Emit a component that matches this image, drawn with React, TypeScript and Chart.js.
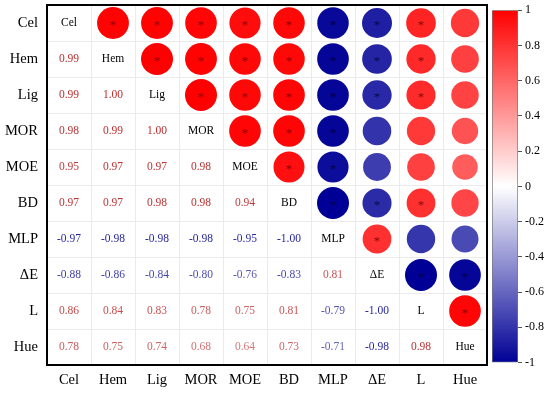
import React, { useEffect, useRef } from "react";
import { Chart, registerables } from "chart.js";

Chart.register(...registerables);

// ---------- data ----------
const labels = ["Cel", "Hem", "Lig", "MOR", "MOE", "BD", "MLP", "ΔE", "L", "Hue"];

// lower triangle of the correlation matrix (row i, columns 0..i)
const rowCel = [1];
const rowHem = [0.99, 1];
const rowLig = [0.99, 1.0, 1];
const rowMOR = [0.98, 0.99, 1.0, 1];
const rowMOE = [0.95, 0.97, 0.97, 0.98, 1];
const rowBD = [0.97, 0.97, 0.98, 0.98, 0.94, 1];
const rowMLP = [-0.97, -0.98, -0.98, -0.98, -0.95, -1.0, 1];
const rowDE = [-0.88, -0.86, -0.84, -0.8, -0.76, -0.83, 0.81, 1];
const rowL = [0.86, 0.84, 0.83, 0.78, 0.75, 0.81, -0.79, -1.0, 1];
const rowHue = [0.78, 0.75, 0.74, 0.68, 0.64, 0.73, -0.71, -0.98, 0.98, 1];
const lowerRows = [rowCel, rowHem, rowLig, rowMOR, rowMOE, rowBD, rowMLP, rowDE, rowL, rowHue];

// significance flags (1 = "*") for pairs (row i, column j < i)
const sigCel: number[] = [];
const sigHem = [1];
const sigLig = [1, 1];
const sigMOR = [1, 1, 1];
const sigMOE = [1, 1, 1, 1];
const sigBD = [1, 1, 1, 1, 1];
const sigMLP = [1, 1, 1, 1, 1, 1];
const sigDE = [1, 1, 1, 0, 0, 1, 1];
const sigL = [1, 1, 1, 0, 0, 1, 0, 1];
const sigHue = [0, 0, 0, 0, 0, 0, 0, 1, 1];
const sigRows = [sigCel, sigHem, sigLig, sigMOR, sigMOE, sigBD, sigMLP, sigDE, sigL, sigHue];

const colorbarMin = -1;
const colorbarMax = 1;
const colorbarStep = 0.2;

// ---------- helpers ----------
const FONT = '"Liberation Serif", "Times New Roman", serif';
const POS = [255, 0, 0];
const NEG = [0, 0, 150];
const POS_TEXT = [190, 45, 45];
const NEG_TEXT = [35, 35, 160];

function corr(i: number, j: number): number {
  return i >= j ? lowerRows[i][j] : lowerRows[j][i];
}
function isSig(i: number, j: number): boolean {
  const a = Math.max(i, j);
  const b = Math.min(i, j);
  return sigRows[a][b] === 1;
}
function mix(end: number[], t: number): string {
  const c = end.map((e) => Math.round(255 + (e - 255) * t));
  return `rgb(${c[0]},${c[1]},${c[2]})`;
}
function cmap(v: number): string {
  return v >= 0 ? mix(POS, v) : mix(NEG, -v);
}
function textColor(v: number): string {
  return v >= 0 ? mix(POS_TEXT, Math.max(v, 0.55)) : mix(NEG_TEXT, Math.max(-v, 0.6));
}

const matrixPlugin = {
  id: "matrixText",
  afterDatasetsDraw(chart: any) {
    const ctx = chart.ctx;
    const xs = chart.scales.x;
    const ys = chart.scales.y;
    ctx.save();
    ctx.textAlign = "center";
    ctx.textBaseline = "middle";
    for (let i = 0; i < labels.length; i++) {
      for (let j = 0; j < labels.length; j++) {
        const x = xs.getPixelForValue(j);
        const y = ys.getPixelForValue(i);
        if (i === j) {
          ctx.fillStyle = "#000";
          ctx.font = `11.5px ${FONT}`;
          ctx.fillText(labels[i], x, y);
        } else if (i > j) {
          const v = corr(i, j);
          ctx.fillStyle = textColor(v);
          ctx.font = `11.5px ${FONT}`;
          ctx.fillText(v.toFixed(2), x, y);
        } else if (isSig(i, j)) {
          const v = corr(i, j);
          ctx.fillStyle = v >= 0 ? "rgba(110,0,0,0.85)" : "rgba(0,0,40,0.8)";
          ctx.font = `13px ${FONT}`;
          ctx.fillText("*", x, y + 3);
        }
      }
    }
    const a = chart.chartArea;
    ctx.lineWidth = 2;
    ctx.strokeStyle = "#000";
    ctx.strokeRect(a.left, a.top, a.right - a.left, a.bottom - a.top);
    ctx.restore();
  },
};

function noPad(s: any) {
  s.paddingTop = 0;
  s.paddingBottom = 0;
  s.paddingLeft = 0;
  s.paddingRight = 0;
}

export default function App() {
  const mainRef = useRef<HTMLCanvasElement | null>(null);
  const barRef = useRef<HTMLCanvasElement | null>(null);

  useEffect(() => {
    const points: any[] = [];
    const colors: string[] = [];
    for (let i = 0; i < labels.length; i++) {
      for (let j = i + 1; j < labels.length; j++) {
        const v = corr(i, j);
        points.push({ x: labels[j], y: labels[i], r: 16 * Math.sqrt(Math.abs(v)) });
        colors.push(cmap(v));
      }
    }

    const main = new Chart(mainRef.current as HTMLCanvasElement, {
      type: "bubble",
      data: {
        labels: labels,
        datasets: [
          {
            data: points,
            backgroundColor: colors,
            borderWidth: 0,
            hoverBorderWidth: 0,
          } as any,
        ],
      },
      options: {
        animation: false,
        responsive: false,
        events: [],
        layout: { autoPadding: false, padding: { left: 0, top: 5, right: 3, bottom: 0 } },
        plugins: { legend: { display: false }, tooltip: { enabled: false } },
        scales: {
          x: {
            type: "category",
            offset: true,
            grid: { offset: true, color: "#ebebeb", drawTicks: false },
            border: { display: false },
            ticks: { color: "#000", font: { family: FONT, size: 14.5 }, padding: 6, maxRotation: 0, autoSkip: false },
            afterFit: (s: any) => {
              s.height = 31;
              noPad(s);
            },
          } as any,
          y: {
            type: "category",
            offset: true,
            grid: { offset: true, color: "#ebebeb", drawTicks: false },
            border: { display: false },
            ticks: { color: "#000", font: { family: FONT, size: 14.5 }, padding: 9, autoSkip: false },
            afterFit: (s: any) => {
              s.width = 47;
              noPad(s);
            },
          } as any,
        },
      } as any,
      plugins: [matrixPlugin],
    });

    const bar = new Chart(barRef.current as HTMLCanvasElement, {
      type: "bar",
      data: {
        labels: [""],
        datasets: [
          {
            data: [[colorbarMin, colorbarMax]] as any,
            backgroundColor: (c: any) => {
              const area = c.chart.chartArea;
              if (!area) return "#fff";
              const g = c.chart.ctx.createLinearGradient(0, area.bottom, 0, area.top);
              g.addColorStop(0, cmap(-1));
              g.addColorStop(0.5, cmap(0));
              g.addColorStop(1, cmap(1));
              return g;
            },
            borderColor: "#777",
            borderWidth: 1,
            borderSkipped: false,
            barPercentage: 1,
            categoryPercentage: 1,
          } as any,
        ],
      },
      options: {
        animation: false,
        responsive: false,
        events: [],
        layout: { padding: { left: 7, top: 8.5, right: 0, bottom: 33.5 } },
        plugins: { legend: { display: false }, tooltip: { enabled: false } },
        scales: {
          x: { display: false },
          y: {
            position: "right",
            min: colorbarMin,
            max: colorbarMax,
            ticks: {
              stepSize: colorbarStep,
              color: "#000",
              padding: 3,
              font: { family: FONT, size: 12 },
              callback: (v: any) => String(Math.round(Number(v) * 10) / 10),
            },
            grid: { drawOnChartArea: false, tickLength: 4, color: "#555" },
            border: { display: false },
            afterFit: (s: any) => {
              s.width = 32;
            },
          } as any,
        },
      },
    });

    return () => {
      main.destroy();
      bar.destroy();
    };
  }, []);

  return (
    <div style={{ position: "absolute", left: 0, top: 0, width: 550, height: 396, background: "#fff" }}>
      <canvas
        ref={mainRef}
        width={490}
        height={396}
        style={{ position: "absolute", left: 0, top: 0, width: 490, height: 396, display: "block" }}
      />
      <canvas
        ref={barRef}
        width={65}
        height={396}
        style={{ position: "absolute", left: 485, top: 0, width: 65, height: 396, display: "block" }}
      />
    </div>
  );
}
